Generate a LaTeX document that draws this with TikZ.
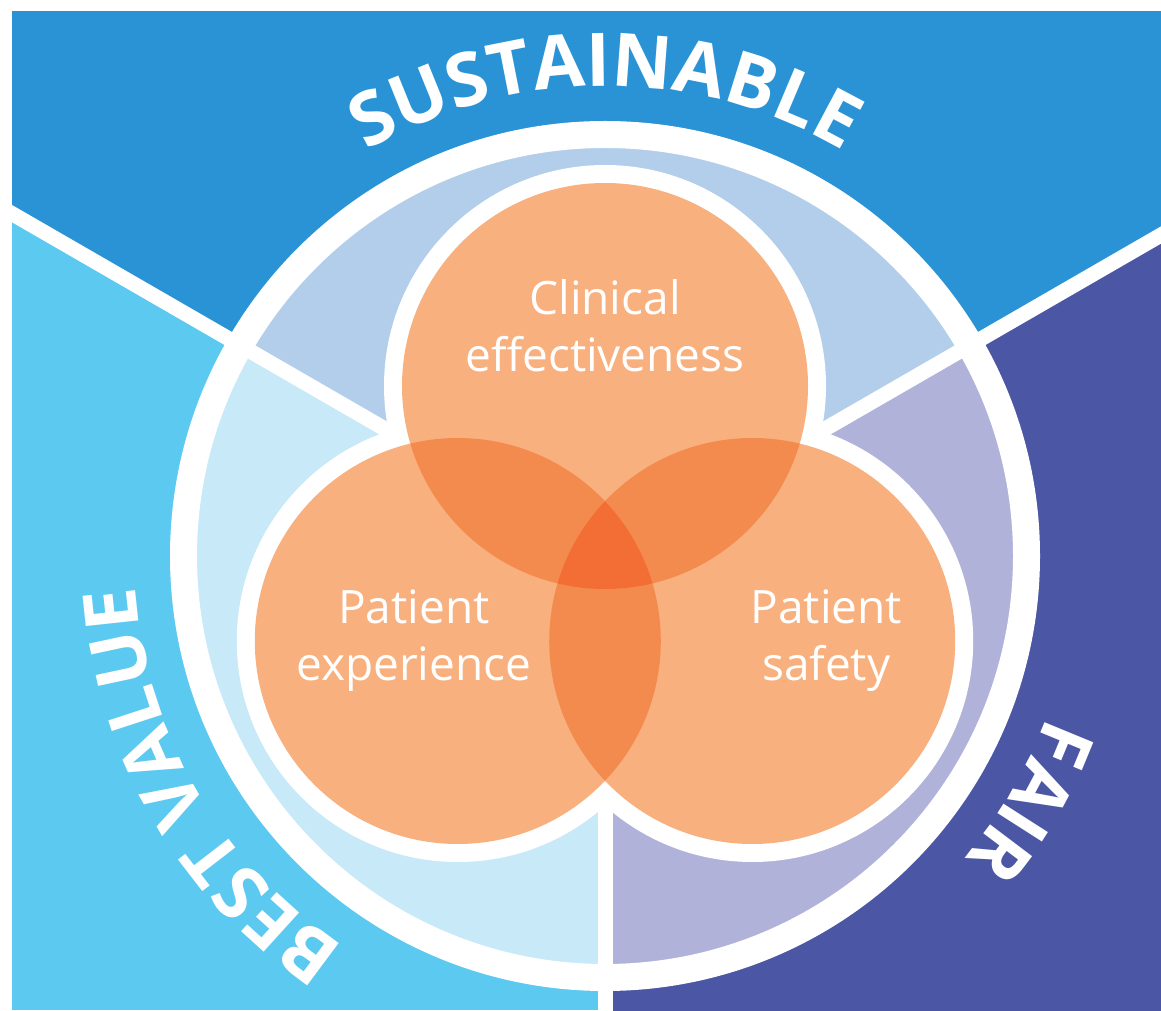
\documentclass[tikz,border=0pt]{standalone}
\usepackage{fontspec}
\setmainfont{Open Sans}
\usepackage{tikz}
\usetikzlibrary{positioning,calc,decorations.text}

\definecolor{sustainblue}{HTML}{2A93D5}
\definecolor{valuecyan}{HTML}{5BC9F0}
\definecolor{fairindigo}{HTML}{4B56A4}
\definecolor{sustainband}{HTML}{B3CEEA}
\definecolor{valueband}{HTML}{C8E9F8}
\definecolor{fairband}{HTML}{B1B2DA}
\definecolor{vennone}{HTML}{F8B07E}
\definecolor{venntwo}{HTML}{F48B4E}
\definecolor{vennthree}{HTML}{F26E35}

\newcommand{\arcfont}{\fontsize{74}{74}\selectfont\bfseries}
\newcommand{\vennfont}{\fontsize{46}{57}\selectfont}

\begin{document}
\begin{tikzpicture}
[x=1pt,y=1pt,
divider/.style={white,line width=15pt},
ring/.style={white,line width=27pt},
vennback/.style={circle,minimum size=442pt,inner sep=0pt,fill=white},
venncircle/.style={circle,minimum size=406pt,inner sep=0pt,fill=vennone},
venntext/.style={text=white,align=center,font=\vennfont,inner sep=0pt},
arctext/.style={decorate,decoration={text along path,text align=center,text color=white,text={|\arcfont|#1}}}]
\useasboundingbox (0,0) rectangle (1161,1010);
\fill[white] (0,0) rectangle (1161,1010);
\coordinate (O) at (605,454);
\coordinate (valueend) at ($(O)+(150:700)$);
\coordinate (fairend) at ($(O)+(30:700)$);
\coordinate (bottomend) at ($(O)+(270:470)$);
% outer sectors
\begin{scope}
\clip (12,0) rectangle (1161,998);
\fill[valuecyan] (12,0) rectangle (1161,998);
\fill[sustainblue] (O) -- ($(O)+(150:1000)$) -- ($(O)+(90:1000)$) -- ($(O)+(30:1000)$) -- cycle;
\fill[fairindigo] (O) -- ($(O)+(30:1000)$) -- ($(O)+(-30:1000)$) -- ($(O)+(-90:1000)$) -- cycle;
\end{scope}
% inner band
\begin{scope}
\clip (O) circle[radius=409pt];
\fill[valueband] (O) circle[radius=409pt];
\fill[sustainband] (O) -- ($(O)+(150:1000)$) -- ($(O)+(90:1000)$) -- ($(O)+(30:1000)$) -- cycle;
\fill[fairband] (O) -- ($(O)+(30:1000)$) -- ($(O)+(-30:1000)$) -- ($(O)+(-90:1000)$) -- cycle;
\end{scope}
\draw[ring] (O) circle[radius=421.5pt];
\draw[divider] (O) -- (valueend);
\draw[divider] (O) -- (fairend);
\draw[divider] (O) -- (bottomend);
% venn circles
\node[vennback] (clinback) at ($(O)+(90:170)$) {};
\node[vennback] (expback) at ($(O)+(210:170)$) {};
\node[vennback] (safeback) at ($(O)+(330:170)$) {};
\node[venncircle] (clin) at ($(O)+(90:170)$) {};
\node[venncircle] (exp) at ($(O)+(210:170)$) {};
\node[venncircle] (safe) at ($(O)+(330:170)$) {};
% overlaps
\begin{scope}
\clip (clin) circle[radius=203pt];
\fill[venntwo] (exp) circle[radius=203pt];
\fill[venntwo] (safe) circle[radius=203pt];
\end{scope}
\begin{scope}
\clip (exp) circle[radius=203pt];
\fill[venntwo] (safe) circle[radius=203pt];
\end{scope}
\begin{scope}
\clip (clin) circle[radius=203pt];
\clip (exp) circle[radius=203pt];
\fill[vennthree] (safe) circle[radius=203pt];
\end{scope}
\node[venntext, on grid, above=60pt of clin] (clintext) {Clinical\\effectiveness};
\node[venntext, on grid, left=44pt of exp] (exptext) {Patient\\experience};
\node[venntext, on grid, right=74pt of safe] (safetext) {Patient\\safety};
% arc labels
\path[arctext=SUSTAINABLE] ($(O)+(140:470)$) arc[start angle=140,end angle=40,radius=470pt];
\path[arctext={BEST VALUE}] ($(O)+(260:470)$) arc[start angle=260,end angle=160,radius=470pt];
\path[arctext=FAIR] ($(O)+(20:470)$) arc[start angle=20,end angle=-80,radius=470pt];
\end{tikzpicture}
\end{document}
